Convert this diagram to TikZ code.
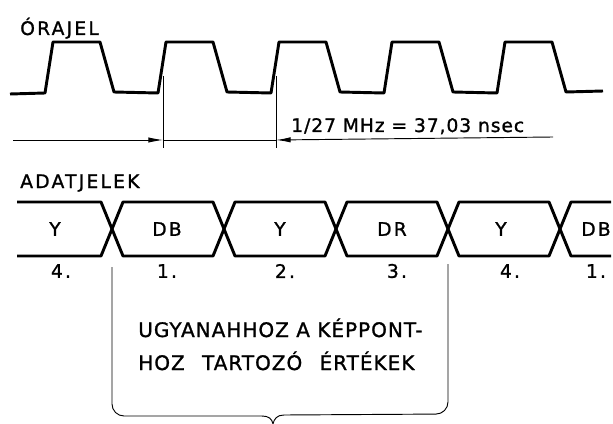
\documentclass[tikz,border=0pt]{standalone}
\usepackage{fontspec}
\setmainfont{DejaVu Sans}
\newfontfamily\lblfont[LetterSpace=12,FakeBold=1.2]{DejaVu Sans}
\newfontfamily\txtfont[LetterSpace=5,FakeBold=1.2]{DejaVu Sans}
\usetikzlibrary{arrows.meta}

\begin{document}
\begin{tikzpicture}[x=0.75pt,y=-0.75pt,
  wave/.style={line width=2.2pt,line join=round},
  thinline/.style={line width=0.7pt},
  lbl/.style={inner sep=0pt,font=\lblfont\fontsize{14}{16}\selectfont},
  biglbl/.style={inner sep=0pt,anchor=base west,font=\txtfont\fontsize{15}{17}\selectfont},
  tip/.style={-{Latex[length=11pt,width=4pt]}}]
\useasboundingbox (0,0) rectangle (613,424);
\node[lbl,anchor=base west] (orajel) at (20,35) {ÓRAJEL};
\draw[wave] (10,94) \foreach \x in {45,158,271,384,497}{
  -- (\x,93) -- (\x+8,42) -- (\x+55,42) -- (\x+69,92)} -- (603,91);
\coordinate (m1) at (163,76);
\coordinate (m2) at (276,76);
\coordinate (d0) at (13,140);
\coordinate (d1) at (163,140);
\coordinate (d2) at (276,140);
\coordinate (d3) at (553,137);
\draw[thinline] (m1)--(163,148);
\draw[thinline] (m2)--(276,148);
\draw[thinline,tip] (d0)--(d1);
\draw[thinline] (d1)--(d2);
\draw[thinline,tip] (d3)--(d2);
\node[biglbl,font=\txtfont\fontsize{14}{16}\selectfont] (per) at (291,132) {1/27 MHz = 37,03 nsec};
\node[lbl,anchor=base west] (adat) at (20,188) {ADATJELEK};
\draw[wave] (17,202)--(101,202)--(112,229)--(101,256)--(17,256);
\foreach \a/\b in {112/224,224/336,336/448,448/560}
  \draw[wave] (\a,229)--(\a+11,202)--(\b-11,202)--(\b,229)--(\b-11,256)--(\a+11,256)--cycle;
\draw[wave] (611,202)--(571,202)--(560,229)--(571,256)--(611,256);
\node[lbl] (y1) at (55,229) {Y};
\node[lbl] (db1) at (167,229) {DB};
\node[lbl] (y2) at (280,229) {Y};
\node[lbl] (dr) at (392,229) {DR};
\node[lbl] (y3) at (501,229) {Y};
\node[lbl] (db2) at (596,229) {DB};
\node[lbl] (n4a) at (61,271) {4.};
\node[lbl] (n1a) at (167,271) {1.};
\node[lbl] (n2) at (285,271) {2.};
\node[lbl] (n3) at (397,271) {3.};
\node[lbl] (n4b) at (510,271) {4.};
\node[lbl] (n1b) at (596,271) {1.};
\coordinate (bl) at (112,267);
\coordinate (br) at (448,264);
\draw[thinline,rounded corners=9pt] (bl)--(112,416)--(262,416);
\draw[thinline] (262,416) .. controls (269,416) and (272,419) .. (273,424)
  .. controls (274,419) and (277,415) .. (284,415);
\draw[thinline,rounded corners=9pt] (284,415)--(448,414)--(br);
\node[biglbl] (txt1) at (138,337) {UGYANAHHOZ A KÉPPONT-};
\node[biglbl] (txt2) at (138,370) {HOZ\hspace{13pt}TARTOZÓ\hspace{13pt}ÉRTÉKEK};
\end{tikzpicture}
\end{document}
